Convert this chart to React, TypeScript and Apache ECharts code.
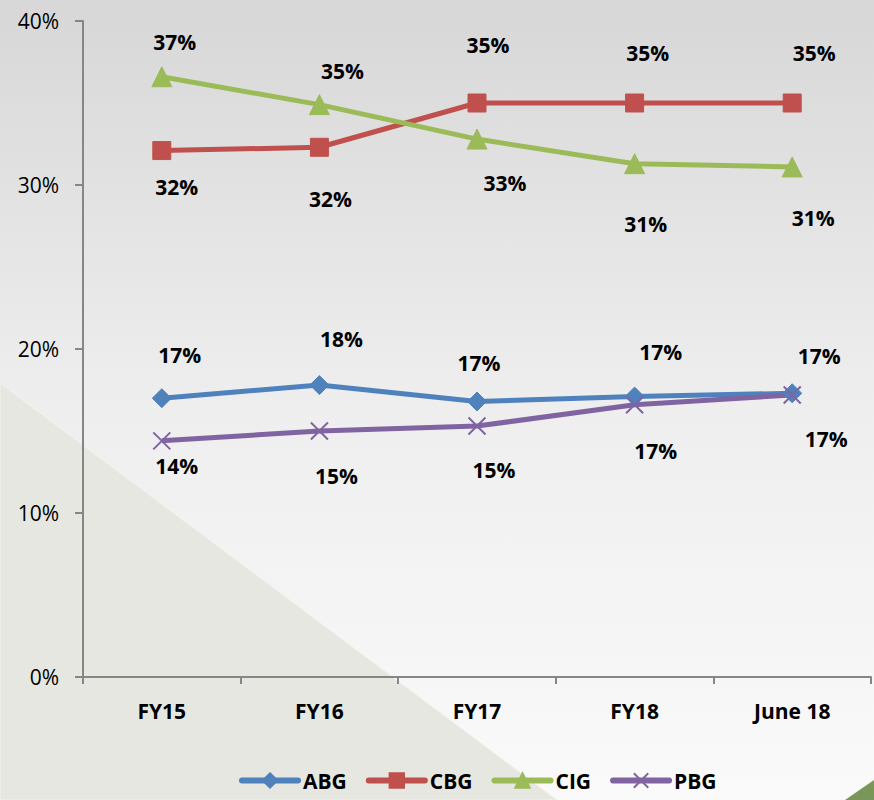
import React, { useEffect, useRef } from "react";
import * as echarts from "echarts";

const categories = ["FY15", "FY16", "FY17", "FY18", "June 18"];
const abg = [17.0, 17.8, 16.8, 17.1, 17.3];
const cbg = [32.1, 32.3, 35.0, 35.0, 35.0];
const cig = [36.6, 34.9, 32.8, 31.3, 31.1];
const pbg = [14.4, 15.0, 15.3, 16.6, 17.2];
const yTicks = [0, 10, 20, 30, 40];

// label offsets [dx, dy] from each point (style only)
const abgOff = [[18, -43], [22, -46], [2, -38], [26, -45], [27, -37]];
const cbgOff = [[15, 36], [11, 52], [11, -58], [13, -50], [22, -50]];
const cigOff = [[13, -35], [23, -34], [28, 44], [11, 60], [21, 51]];
const pbgOff = [[15, 25], [17, 45], [17, 44], [21, 46], [34, 44]];

const FONT = "'Open Sans', 'Noto Sans', sans-serif";

function mkData(vals: number[], offs: number[][]) {
  return vals.map((v, i) => ({
    value: v,
    label: { offset: offs[i] },
  }));
}

function mkSeries(name: string, vals: number[], offs: number[][], color: string, symbol: string, size: number, extra: any = {}) {
  return {
    name,
    type: "line",
    data: mkData(vals, offs),
    symbol,
    symbolSize: size,
    showAllSymbol: true,
    lineStyle: { color, width: 5 },
    itemStyle: { color, borderColor: color, borderWidth: 1, ...extra },
    label: {
      show: true,
      position: "inside",
      formatter: (p: any) => Math.round(p.value) + "%",
      color: "#000",
      fontFamily: FONT,
      fontWeight: "bold",
      fontSize: 21,
      align: "center",
      verticalAlign: "middle",
    },
    emphasis: { disabled: true },
  };
}

export default function App() {
  const ref = useRef<HTMLDivElement>(null);
  useEffect(() => {
    document.body.style.margin = "0";
    const chart = echarts.init(ref.current!, null, { renderer: "svg" });
    chart.setOption({
      animation: false,
      backgroundColor: {
        type: "linear", x: 0, y: 0, x2: 0, y2: 1,
        colorStops: [
          { offset: 0, color: "#d7d7d7" },
          { offset: 0.5, color: "#eeeeee" },
          { offset: 1, color: "#fafafa" },
        ],
      },
      graphic: [
        {
          type: "polygon", z: -10, silent: true,
          shape: { points: [[0, 383], [557, 800], [0, 800]] },
          style: { fill: "#e7e7e2", stroke: "#f3f3e8", lineWidth: 1 },
        },
        {
          type: "polygon", z: -10, silent: true,
          shape: { points: [[845, 800], [874, 780], [874, 800]] },
          style: { fill: "#7b9659" },
        },
      ],
      grid: { left: 83, right: 3, top: 21, bottom: 123, containLabel: false },
      legend: {
        bottom: 4,
        left: 234,
        itemWidth: 56,
        itemHeight: 18,
        itemGap: 19,
        lineStyle: { width: 6, cap: "round" },
        textStyle: { fontFamily: FONT, fontWeight: "bold", fontSize: 21, color: "#000" },
        data: ["ABG", "CBG", "CIG", "PBG"],
      },
      xAxis: {
        type: "category",
        data: categories,
        boundaryGap: true,
        axisLine: { lineStyle: { color: "#868686", width: 2 } },
        axisTick: { show: true, length: 7, lineStyle: { color: "#868686", width: 2 } },
        axisLabel: { margin: 23, color: "#000", fontFamily: FONT, fontWeight: "bold", fontSize: 21 },
        splitLine: { show: false },
      },
      yAxis: {
        type: "value",
        min: yTicks[0],
        max: yTicks[yTicks.length - 1],
        interval: 10,
        axisLine: { show: true, lineStyle: { color: "#868686", width: 2 } },
        axisTick: { show: true, length: 8, lineStyle: { color: "#868686", width: 2 } },
        axisLabel: { margin: 24, color: "#000", fontFamily: FONT, fontSize: 21, formatter: "{value}%" },
        splitLine: { show: false },
      },
      series: [
        mkSeries("ABG", abg, abgOff, "#4f81bd", "diamond", 19),
        mkSeries("CBG", cbg, cbgOff, "#c0504d", "rect", 18),
        mkSeries("CIG", cig, cigOff, "#9bbb59", "triangle", 20),
        mkSeries("PBG", pbg, pbgOff, "#8064a2", "path://M0,0L10,10M10,0L0,10", 17, { borderWidth: 2 }),
      ],
    });
    return () => chart.dispose();
  }, []);
  return <div ref={ref} style={{ width: 874, height: 800 }} />;
}
